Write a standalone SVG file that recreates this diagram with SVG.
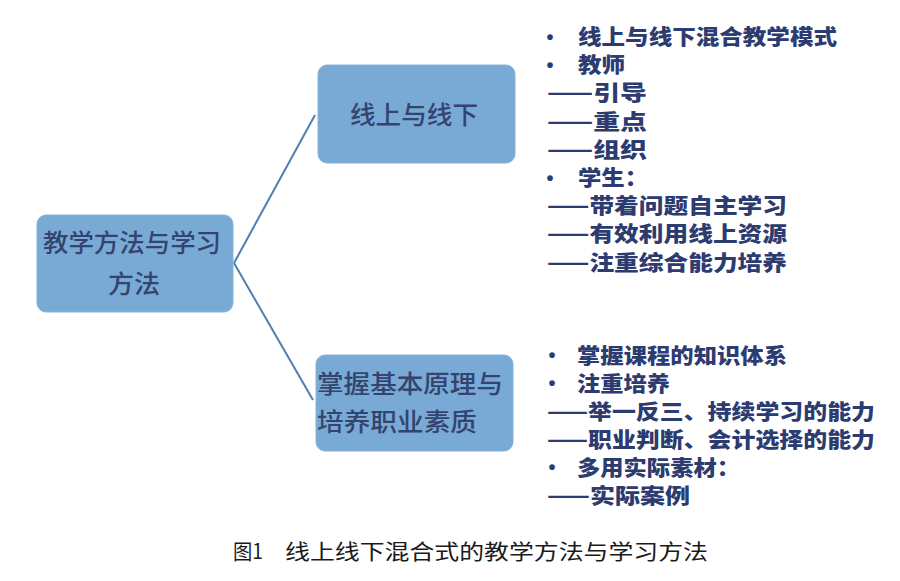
<svg xmlns="http://www.w3.org/2000/svg" width="900" height="581" viewBox="0 0 900 581">
<style>
.box{fill:#79aad6;stroke:#86b4dc;stroke-width:1}
.bt{font-family:"Noto Sans CJK SC","Noto Sans",sans-serif;font-size:25px;font-weight:500;fill:#34446e}
.li{font-family:"Noto Sans CJK SC","Noto Sans",sans-serif;font-size:21px;font-weight:800;fill:#2c3b70}
.bu{font-family:"Liberation Sans",sans-serif;font-size:20px;font-weight:700;fill:#2c3b70}
.cap{font-family:"Noto Sans CJK SC","Liberation Sans",sans-serif;font-size:21px;fill:#1a1a1a}
.con{stroke:#4f7fb0;stroke-width:2;fill:none}
</style>
<rect width="900" height="581" fill="#ffffff"/>
<g id="connectors">
<line class="con" x1="234" y1="263" x2="315" y2="115"/>
<line class="con" x1="234" y1="263" x2="313" y2="400"/>
</g>
<g id="root">
<rect class="box" x="37" y="215" width="196" height="97" rx="9"/>
<text class="bt" x="132" y="252" text-anchor="middle" textLength="178" lengthAdjust="spacingAndGlyphs">教学方法与学习</text>
<text class="bt" x="134" y="293" text-anchor="middle" textLength="52" lengthAdjust="spacingAndGlyphs">方法</text>
</g>
<g id="online">
<rect class="box" x="318" y="65" width="197" height="98" rx="9"/>
<text class="bt" x="414" y="123.5" text-anchor="middle" textLength="128" lengthAdjust="spacingAndGlyphs">线上与线下</text>
</g>
<g id="principles">
<rect class="box" x="316" y="355" width="197" height="96" rx="9"/>
<text class="bt" x="317" y="392.5" textLength="186" lengthAdjust="spacingAndGlyphs">掌握基本原理与</text>
<text class="bt" x="317" y="430.5" textLength="160" lengthAdjust="spacingAndGlyphs">培养职业素质</text>
</g>
<g id="list-online">
<text class="bu" x="550" y="43.5" text-anchor="middle">•</text>
<text class="li" x="578" y="44" textLength="259" lengthAdjust="spacingAndGlyphs">线上与线下混合教学模式</text>
<text class="bu" x="550" y="71.7" text-anchor="middle">•</text>
<text class="li" x="578" y="72.2" textLength="47" lengthAdjust="spacingAndGlyphs">教师</text>
<text class="li" x="547" y="100.4" textLength="100" lengthAdjust="spacingAndGlyphs">——引导</text>
<text class="li" x="547" y="128.6" textLength="100" lengthAdjust="spacingAndGlyphs">——重点</text>
<text class="li" x="547" y="156.8" textLength="100" lengthAdjust="spacingAndGlyphs">——组织</text>
<text class="bu" x="550" y="184.5" text-anchor="middle">•</text>
<text class="li" x="578" y="185" textLength="70" lengthAdjust="spacingAndGlyphs">学生：</text>
<text class="li" x="547" y="213.2" textLength="240" lengthAdjust="spacingAndGlyphs">——带着问题自主学习</text>
<text class="li" x="547" y="241.4" textLength="240" lengthAdjust="spacingAndGlyphs">——有效利用线上资源</text>
<text class="li" x="547" y="269.6" textLength="240" lengthAdjust="spacingAndGlyphs">——注重综合能力培养</text>
</g>
<g id="list-principles">
<text class="bu" x="552" y="362" text-anchor="middle">•</text>
<text class="li" x="577" y="362.5" textLength="210" lengthAdjust="spacingAndGlyphs">掌握课程的知识体系</text>
<text class="bu" x="552" y="390" text-anchor="middle">•</text>
<text class="li" x="577" y="390.5" textLength="93" lengthAdjust="spacingAndGlyphs">注重培养</text>
<text class="li" x="547" y="418.5" textLength="328" lengthAdjust="spacingAndGlyphs">——举一反三、持续学习的能力</text>
<text class="li" x="547" y="446.5" textLength="328" lengthAdjust="spacingAndGlyphs">——职业判断、会计选择的能力</text>
<text class="bu" x="552" y="474" text-anchor="middle">•</text>
<text class="li" x="577" y="474.5" textLength="163" lengthAdjust="spacingAndGlyphs">多用实际素材：</text>
<text class="li" x="547" y="502.5" textLength="143" lengthAdjust="spacingAndGlyphs">——实际案例</text>
</g>
<g id="caption">
<text class="cap" x="233" y="559" textLength="30" lengthAdjust="spacingAndGlyphs">图1</text>
<text class="cap" x="285" y="559" textLength="423" lengthAdjust="spacingAndGlyphs">线上线下混合式的教学方法与学习方法</text>
</g>
</svg>
